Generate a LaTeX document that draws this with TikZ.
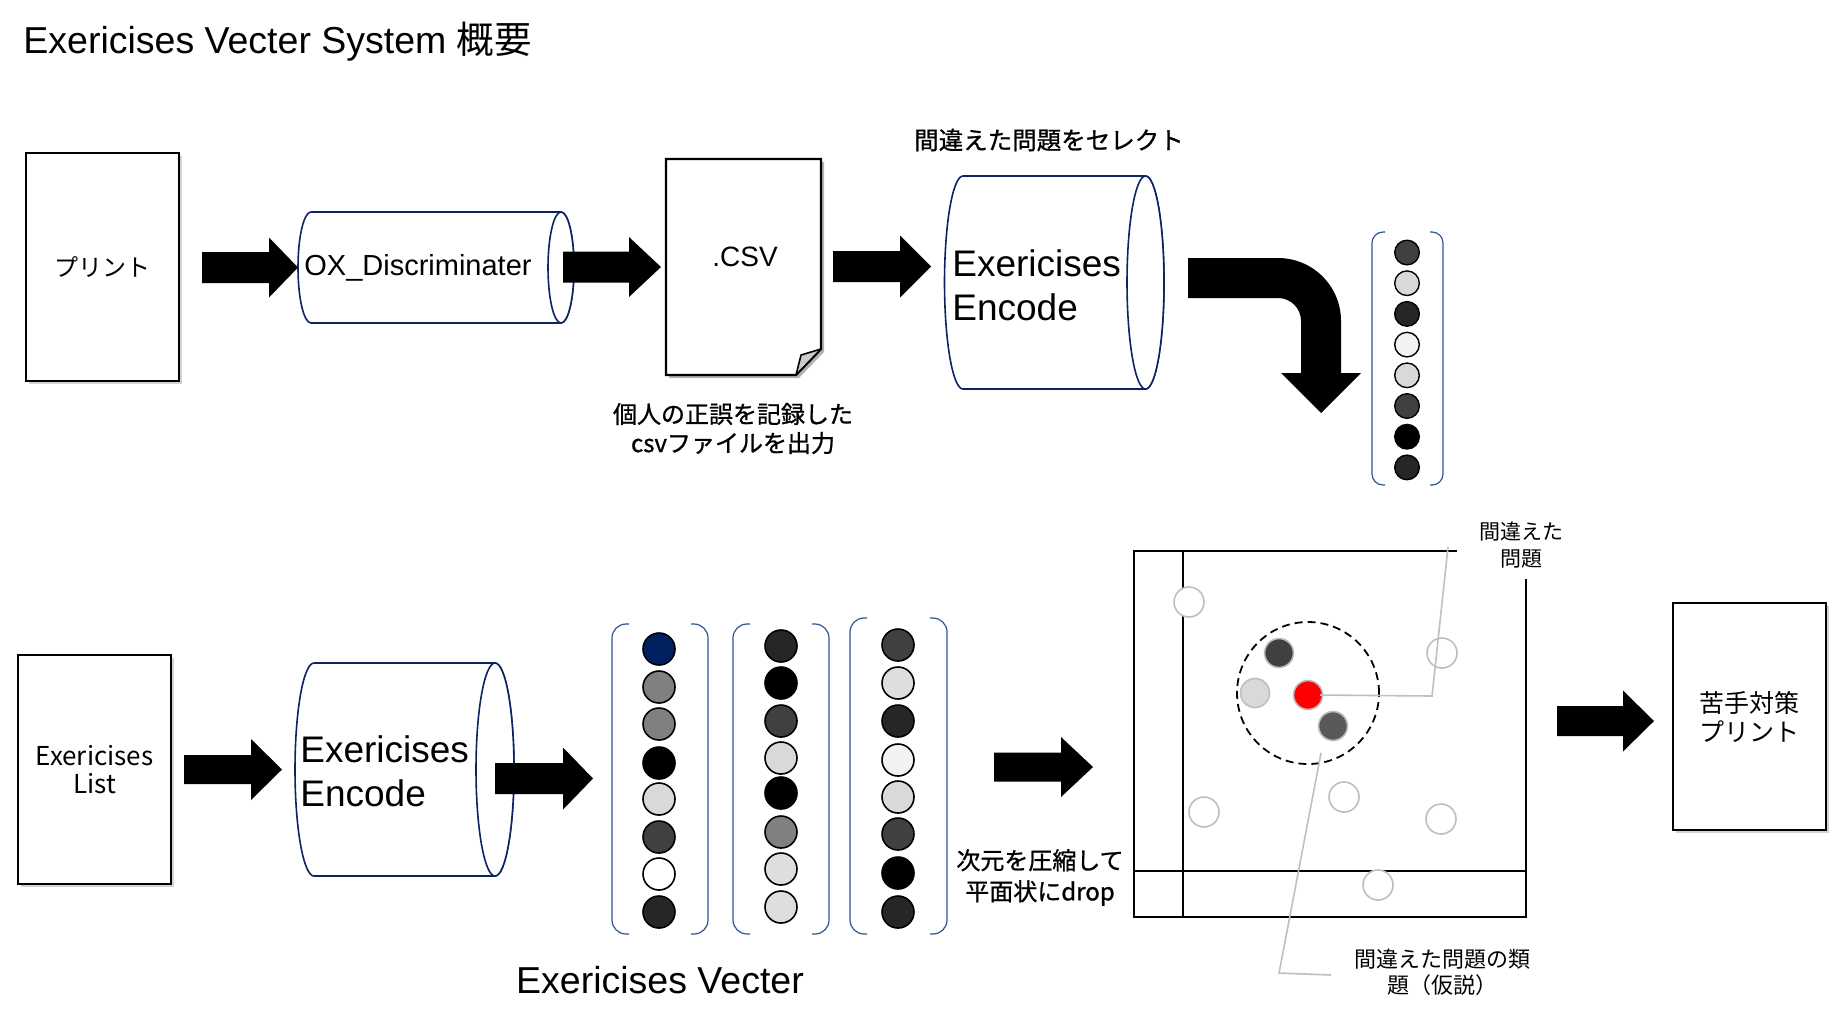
\documentclass[tikz,border=0pt]{standalone}
\usepackage{fontspec}
\setmainfont{Liberation Sans}
\newfontfamily\jp{Noto Sans CJK JP}
\newfontfamily\jpm[FakeBold=0.9]{Noto Sans CJK JP}
\usetikzlibrary{shadows}
\definecolor{navy}{RGB}{12,36,97}
\definecolor{brk}{RGB}{47,85,151}
\definecolor{cg}{RGB}{191,191,191}
\definecolor{c0}{HTML}{000000}
\definecolor{c15}{HTML}{262626}
\definecolor{c25}{HTML}{404040}
\definecolor{c35}{HTML}{595959}
\definecolor{c50}{HTML}{808080}
\definecolor{c85}{HTML}{D9D9D9}
\definecolor{c87}{HTML}{DEDEDE}
\definecolor{c95}{HTML}{F2F2F2}
\definecolor{cnavy}{HTML}{002060}
\definecolor{cred}{HTML}{FF0000}
\newcommand\blockarr[6]{%
  \fill (#1,{#3-#5}) -- (#4,{#3-#5}) -- (#4,{#3-#6}) -- (#2,#3) -- (#4,{#3+#6}) -- (#4,{#3+#5}) -- (#1,{#3+#5}) -- cycle;}
\newcommand\hcyl[5]{%
  \path[cyl] (#2,{#3-#5}) -- (#1,{#3-#5}) arc[start angle=270,end angle=90,x radius=#4,y radius=#5] -- (#2,{#3+#5}) arc[start angle=90,end angle=-90,x radius=#4,y radius=#5] -- cycle;
  \draw[cyl] (#2,#3) ellipse[x radius=#4,y radius=#5];}
\newcommand\vbrack[6]{%
  \draw[vbr,rounded corners=#6] ({#1+#5},#3) -- (#1,#3) -- (#1,#4) -- ({#1+#5},#4);
  \draw[vbr,rounded corners=#6] ({#2-#5},#3) -- (#2,#3) -- (#2,#4) -- ({#2-#5},#4);}
\begin{document}
\begin{tikzpicture}[x=0.5pt,y=-0.5pt,
  paper/.style={draw=black,line width=1.1pt,fill=white,inner sep=0pt,
     drop shadow={shadow xshift=1.5pt,shadow yshift=-1.5pt,opacity=0.35}},
  cyl/.style={draw=navy,line width=0.8pt,fill=white},
  vbr/.style={draw=brk,line width=0.6pt},
  dA/.style={circle,draw=black,line width=0.7pt,minimum size=12.3pt,inner sep=0pt},
  dB/.style={circle,draw=black,line width=0.8pt,minimum size=16pt,inner sep=0pt},
  pe/.style={circle,draw=cg,line width=0.8pt,fill=white,minimum size=15pt,inner sep=0pt},
  pf/.style={circle,draw=cg,line width=0.8pt,minimum size=14.5pt,inner sep=0pt},
  call/.style={draw=cg,line width=0.8pt},
  ax/.style={draw=black,line width=1pt},
  lbl/.style={inner sep=0pt,align=center}]
\fill[white] (0,0) rectangle (1839,1025);
\useasboundingbox (0,0) rectangle (1839,1025);

% title
\node[anchor=base west,inner sep=0pt,font=\fontsize{18.75}{22}\selectfont] (title) at (23,53) {Exericises Vecter System {\jp 概要}};

% ---------- top row ----------
\node[paper,minimum width=76.5pt,minimum height=114pt,font=\jp\fontsize{12}{14}\selectfont] (print) at (102.5,267) {プリント};
\blockarr{202}{298}{267.5}{269}{15.5}{30}
\hcyl{311}{561}{267.5}{13}{55.5}
\node[inner sep=0pt,font=\fontsize{14.5}{17}\selectfont] (ox) at (418,268) {OX\_Discriminater};
\blockarr{563}{661}{267}{629}{15.5}{30}

% csv document
\fill[black,opacity=0.3] (669,162) -- (824,162) -- (824,352) -- (799,378) -- (669,378) -- cycle;
\draw[line width=1.1pt,fill=white] (666,159) -- (821,159) -- (821,349) -- (796,375) -- (666,375) -- cycle;
\draw[line width=0.8pt,fill=black!20,line join=round] (796,375) -- (801,355) -- (821,349) -- cycle;
\node[inner sep=0pt,font=\fontsize{14}{16}\selectfont] (csv) at (745,257) {.CSV};
\node[lbl,font=\jpm\fontsize{12}{14.5}\selectfont] (csvcap) at (733,428.5) {個人の正誤を記録した\\csvファイルを出力};

\blockarr{833}{931}{266.5}{900}{15.5}{31}
\hcyl{963}{1145.5}{282.5}{18.5}{106.5}
\node[lbl,anchor=west,align=left,font=\fontsize{18.5}{22}\selectfont] (enc1) at (952,285) {Exericises\\Encode};
\node[lbl,font=\jpm\fontsize{12.25}{14}\selectfont] (sel) at (1049,140) {間違えた問題をセレクト};

% curved arrow
\fill (1188,258) -- (1278,258) .. controls (1312.8,258) and (1341,286.2) .. (1341,321) -- (1341,373) -- (1361,373) -- (1321,413) -- (1281,373) -- (1301,373) -- (1301,321) .. controls (1301,308.3) and (1290.7,298) .. (1278,298) -- (1188,298) -- cycle;

% vector 1
\vbrack{1372}{1443}{232}{485}{13}{5.5pt}
\foreach \c [count=\i] in {c25,c85,c15,c95,c85,c25,c0,c15}
  \node[dA,fill=\c] (v\i) at (1407,{252.5+30.7*(\i-1)}) {};

% ---------- bottom row ----------
\node[paper,minimum width=76.5pt,minimum height=114.5pt,align=center,font=\jp\fontsize{13}{14}\selectfont] (list) at (94.5,769.5) {Exericises\\List};
\blockarr{184}{282}{769.5}{251}{14.5}{30.5}
\hcyl{314}{495}{769.5}{19}{106.5}
\node[lbl,anchor=west,align=left,font=\fontsize{18.5}{22}\selectfont] (enc2) at (300,771.5) {Exericises\\Encode};
\blockarr{495}{593}{778.5}{563}{15.5}{31}

% vectors
\vbrack{612}{708}{624}{934}{17}{7pt}
\vbrack{733}{829}{624}{934}{17}{7pt}
\vbrack{850}{947}{618}{934}{17}{7pt}
\foreach \y/\c [count=\i] in {649/cnavy,687/c50,724/c50,763/c0,799/c85,837/c25,874/white,912/c15}
  \node[dB,fill=\c] (a\i) at (659,\y) {};
\foreach \y/\c [count=\i] in {646/c15,683/c0,721/c25,758/c85,793/c0,832/c50,869/c87,907/c87}
  \node[dB,fill=\c] (b\i) at (781,\y) {};
\foreach \y/\c [count=\i] in {645/c25,683/c87,721/c15,760/c95,797/c85,834/c25,873/c0,912/c15}
  \node[dB,fill=\c] (c\i) at (898,\y) {};
\node[inner sep=0pt,font=\fontsize{18.75}{22}\selectfont] (veclbl) at (660,980) {Exericises Vecter};

\blockarr{994}{1093}{767}{1061}{14.5}{30}
\node[lbl,font=\jpm\fontsize{12}{15.5}\selectfont] (drop) at (1040,877.5) {次元を圧縮して\\平面状にdrop};

% plot
\draw[ax] (1457,551) -- (1134,551) -- (1134,917) -- (1526,917) -- (1526,579);
\draw[ax] (1183,551) -- (1183,917);
\draw[ax] (1134,871) -- (1526,871);
\node[circle,draw=black,line width=0.9pt,dash pattern=on 4pt off 2.5pt,minimum size=71pt,inner sep=0pt] (cluster) at (1308,693) {};
\foreach \x/\y [count=\i] in {1189/602,1442/653,1204/812,1344/797,1441/819,1378/885}
  \node[pe] (e\i) at (\x,\y) {};
\node[pf,fill=c25] (f1) at (1279,653) {};
\node[pf,fill=c85] (f2) at (1255,693) {};
\node[pf,fill=cred] (red) at (1308,695) {};
\node[pf,fill=c35] (f4) at (1333,726) {};
\coordinate (k1) at (1432,696);
\coordinate (k2) at (1448,547);
\draw[call] ([xshift=6pt]red.center) -- (k1) -- (k2);
\coordinate (k3) at (1321,753);
\coordinate (k4) at (1279,973);
\coordinate (k5) at (1331,975);
\draw[call] (k3) -- (k4) -- (k5);
\node[lbl,font=\jp\fontsize{10.5}{13.5}\selectfont] (lab1) at (1521,545.5) {間違えた\\問題};
\node[lbl,font=\jp\fontsize{11}{13}\selectfont] (lab2) at (1442,972.5) {間違えた問題の類\\題（仮説）};

\blockarr{1557}{1654}{721}{1623}{15}{30.5}
\node[paper,minimum width=76.5pt,minimum height=113.5pt,align=center,font=\jp\fontsize{12.5}{14.5}\selectfont] (weak) at (1749.5,716.5) {苦手対策\\プリント};
\end{tikzpicture}
\end{document}
